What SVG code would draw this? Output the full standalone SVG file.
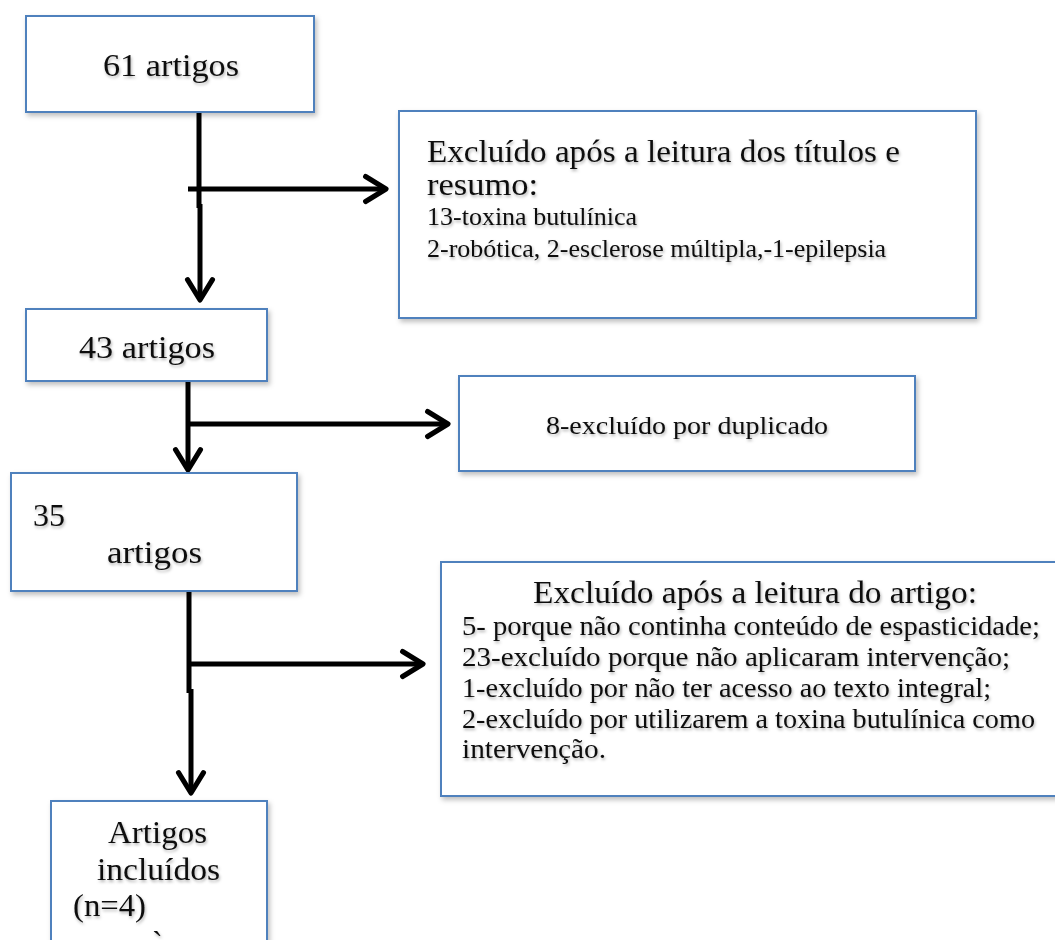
<svg xmlns="http://www.w3.org/2000/svg" width="1055" height="940" viewBox="0 0 1055 940">
<style>
.box{fill:#ffffff;stroke:#4f81bd;stroke-width:2;filter:url(#bs)}
.t{font-family:"Liberation Serif","Times New Roman",serif;fill:#111111;filter:url(#ts)}
.big{font-size:32px}
.mid{font-size:27px}
.sm{font-size:26px}
.c{fill:none;stroke:#000000;stroke-width:5;stroke-linecap:butt}
</style>
<defs>
<filter id="bs" x="-5%" y="-5%" width="115%" height="120%">
<feDropShadow dx="2" dy="3" stdDeviation="2.5" flood-color="#000000" flood-opacity="0.25"/>
</filter>
<filter id="ts" x="-5%" y="-20%" width="115%" height="160%">
<feDropShadow dx="1" dy="2" stdDeviation="1.8" flood-color="#000000" flood-opacity="0.3"/>
</filter>
<marker id="ah" markerUnits="userSpaceOnUse" markerWidth="34" markerHeight="34" viewBox="-22 -15 26 30" refX="0" refY="0" orient="auto">
<path d="M-18,-11 L0,0 L-18,11" fill="none" stroke="#000000" stroke-width="4.5" stroke-linecap="round" stroke-linejoin="round"/>
</marker>
</defs>
<rect width="1055" height="940" fill="#ffffff"/>
<g id="connectors">
<path class="c" d="M199,112 V208 M200,204 V300" marker-end="url(#ah)"/>
<path class="c" d="M188,189 H386" marker-end="url(#ah)"/>
<path class="c" d="M188,377 V470" marker-end="url(#ah)"/>
<path class="c" d="M188,424 H448" marker-end="url(#ah)"/>
<path class="c" d="M189,587 V693 M191,689 V793" marker-end="url(#ah)"/>
<path class="c" d="M187,664 H423" marker-end="url(#ah)"/>
</g>
<g id="n61">
<rect class="box" x="26" y="16" width="288" height="96"/>
<text class="t big" x="103" y="76" textLength="136" lengthAdjust="spacingAndGlyphs">61 artigos</text>
</g>
<g id="excl1">
<rect class="box" x="399" y="111" width="577" height="207"/>
<text class="t big" x="427" y="162" textLength="473" lengthAdjust="spacingAndGlyphs">Excluído após a leitura dos títulos e</text>
<text class="t big" x="427" y="195" textLength="111" lengthAdjust="spacingAndGlyphs">resumo:</text>
<text class="t sm" x="427" y="225">13-toxina butulínica</text>
<text class="t sm" x="427" y="257">2-robótica, 2-esclerose múltipla,-1-epilepsia</text>
</g>
<g id="n43">
<rect class="box" x="26" y="309" width="241" height="72"/>
<text class="t big" x="79" y="358" textLength="136" lengthAdjust="spacingAndGlyphs">43 artigos</text>
</g>
<g id="excl2">
<rect class="box" x="459" y="376" width="456" height="95"/>
<text class="t sm" x="546" y="434" textLength="282" lengthAdjust="spacingAndGlyphs">8-excluído por duplicado</text>
</g>
<g id="n35">
<rect class="box" x="11" y="473" width="286" height="118"/>
<text class="t big" x="33" y="526">35</text>
<text class="t big" x="107" y="563" textLength="95" lengthAdjust="spacingAndGlyphs">artigos</text>
</g>
<g id="excl3">
<rect class="box" x="441" y="562" width="630" height="234"/>
<text class="t big" x="533" y="603" textLength="444" lengthAdjust="spacingAndGlyphs">Excluído após a leitura do artigo:</text>
<text class="t mid" x="462" y="635" textLength="578" lengthAdjust="spacingAndGlyphs">5- porque não continha conteúdo de espasticidade;</text>
<text class="t mid" x="462" y="666" textLength="548" lengthAdjust="spacingAndGlyphs">23-excluído porque não aplicaram intervenção;</text>
<text class="t mid" x="462" y="697" textLength="529" lengthAdjust="spacingAndGlyphs">1-excluído por não ter acesso ao texto integral;</text>
<text class="t mid" x="462" y="728" textLength="573" lengthAdjust="spacingAndGlyphs">2-excluído por utilizarem a toxina butulínica como</text>
<text class="t mid" x="462" y="758" textLength="144" lengthAdjust="spacingAndGlyphs">intervenção.</text>
</g>
<g id="included">
<rect class="box" x="51" y="801" width="216" height="160"/>
<text class="t big" x="108" y="843" textLength="99" lengthAdjust="spacingAndGlyphs">Artigos</text>
<text class="t big" x="97" y="880" textLength="123" lengthAdjust="spacingAndGlyphs">incluídos</text>
<text class="t big" x="73" y="916" textLength="73" lengthAdjust="spacingAndGlyphs">(n=4)</text>
<text class="t big" x="152" y="953">`</text>
</g>
</svg>
